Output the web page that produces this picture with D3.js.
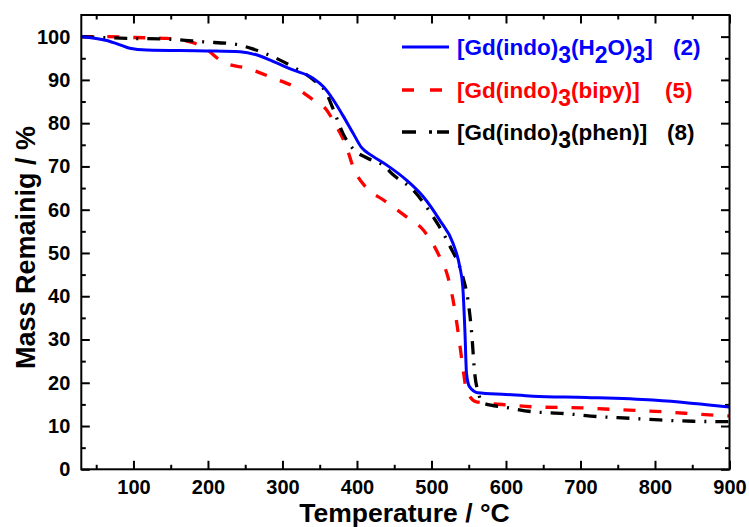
<!DOCTYPE html>
<html>
<head>
<meta charset="utf-8">
<script src="https://cdn.jsdelivr.net/npm/d3@7"></script>
<style>
  body { margin: 0; background: #fff; }
  text { font-family: Arial, "Liberation Sans", sans-serif; font-weight: bold; }
</style>
</head>
<body>
<div id="chart"></div>
<script>
// TGA curves (temperature in °C, mass in %)
const h2oTemp = [30, 64, 82, 95, 118, 198, 243, 265, 288, 314, 341, 355, 367, 381, 395, 406, 420, 440, 466, 489, 511, 529, 538, 542, 545, 547, 551, 562, 600, 636, 708, 797, 842, 869, 900];
const h2oMass = [100, 99.1, 98.1, 97.3, 96.9, 96.7, 96.5, 95.8, 94.2, 92.3, 90.4, 88.4, 85.7, 81.8, 77.6, 74.4, 72.5, 70.3, 66.9, 63, 57.6, 52.2, 46.8, 42.2, 31.4, 22.2, 19.1, 17.7, 17.3, 16.9, 16.6, 16, 15.4, 14.9, 14.4];

const bipyTemp = [30, 64, 100, 145, 180, 198, 216, 225, 252, 288, 319, 341, 359, 370, 386, 395, 413, 435, 466, 489, 511, 522, 529, 536, 542, 547, 560, 600, 641, 700, 748, 820, 860, 900];
const bipyMass = [100, 100, 99.8, 99.6, 98.6, 97.1, 94.6, 93.8, 92.7, 90.4, 88.1, 85.4, 83.1, 80, 74.5, 69.8, 65, 62.3, 58.4, 55.3, 49.1, 44.5, 39.1, 31.4, 23.7, 18.3, 15.6, 14.9, 14.4, 14.2, 13.8, 13.2, 12.7, 12.3];

const phenTemp = [30, 91, 149, 194, 238, 261, 288, 314, 341, 359, 368, 381, 395, 413, 435, 449, 475, 502, 525, 542, 549, 554, 558, 563, 569, 600, 636, 677, 722, 766, 806, 851, 900];
const phenMass = [100, 99.6, 99.4, 98.8, 98.2, 97.1, 95.3, 93, 90.1, 86.9, 83.3, 77.7, 74, 72, 70.3, 68, 64.6, 58.4, 51.5, 44.5, 39.1, 31.4, 22.2, 17.6, 15.3, 14.3, 13.3, 12.9, 12.2, 11.8, 11.4, 11.1, 11];

const xMajor = [100, 200, 300, 400, 500, 600, 700, 800, 900];
const xMinor = [50, 150, 250, 350, 450, 550, 650, 750, 850];
const yMajor = [0, 10, 20, 30, 40, 50, 60, 70, 80, 90, 100];
const yMinor = [5, 15, 25, 35, 45, 55, 65, 75, 85, 95];

const width = 749;
const height = 527;
const margin = {top: 15, right: 19.5, bottom: 57.7, left: 81.3};
const graphWidth = width - margin.left - margin.right;
const graphHeight = height - margin.top - margin.bottom;

const svg = d3.select('#chart')
    .append('svg')
    .attr('width', width)
    .attr('height', height);

const graph = svg.append('g')
    .attr('transform', `translate(${margin.left}, ${margin.top})`);

const xScale = d3.scaleLinear().domain([30, 900]).range([0, graphWidth]);
const yScale = d3.scaleLinear().domain([0, 105]).range([graphHeight, 0]);

// ticks point inward on all four sides
function addAxis(axisFn, scale, values, size, transform, labels) {
    const g = graph.append('g')
        .attr('transform', transform)
        .call(axisFn(scale).tickValues(values).tickSizeInner(-size).tickSizeOuter(0)
            .tickPadding(labels ? 11 : 0)
            .tickFormat(labels ? d3.format('d') : ''));
    g.select('.domain').remove();
    g.selectAll('line').attr('stroke', '#000').attr('stroke-width', 2);
    g.selectAll('text').attr('font-size', 20).attr('fill', '#000');
    return g;
}

addAxis(d3.axisBottom, xScale, xMajor, 8.5, `translate(0, ${graphHeight})`, true);
addAxis(d3.axisBottom, xScale, xMinor, 4.5, `translate(0, ${graphHeight})`, false);
addAxis(d3.axisTop, xScale, xMajor, 8.5, 'translate(0, 0)', false);
addAxis(d3.axisTop, xScale, xMinor, 4.5, 'translate(0, 0)', false);
addAxis(d3.axisLeft, yScale, yMajor, 8.5, 'translate(0, 0)', true);
addAxis(d3.axisLeft, yScale, yMinor, 4.5, 'translate(0, 0)', false);
addAxis(d3.axisRight, yScale, yMajor, 8.5, `translate(${graphWidth}, 0)`, false);
addAxis(d3.axisRight, yScale, yMinor, 4.5, `translate(${graphWidth}, 0)`, false);

graph.append('defs').append('clipPath').attr('id', 'plot-clip')
    .append('rect').attr('width', graphWidth).attr('height', graphHeight);

const line = d3.line()
    .x(d => xScale(d[0]))
    .y(d => yScale(d[1]))
    .curve(d3.curveMonotoneX);

const series = [
    {t: bipyTemp, m: bipyMass, color: '#ff0000', dash: '12,14', w: 3.3},
    {t: phenTemp, m: phenMass, color: '#000000', dash: '13,9,2,9', w: 3.3},
    {t: h2oTemp, m: h2oMass, color: '#0000ff', dash: null, w: 3}
];

series.forEach(s => {
    graph.append('path')
        .datum(s.t.map((t, i) => [t, s.m[i]]))
        .attr('clip-path', 'url(#plot-clip)')
        .attr('fill', 'none')
        .attr('stroke', s.color)
        .attr('stroke-width', s.w)
        .attr('stroke-dasharray', s.dash)
        .attr('d', line);
});

// frame
graph.append('rect')
    .attr('width', graphWidth)
    .attr('height', graphHeight)
    .attr('fill', 'none')
    .attr('stroke', '#000')
    .attr('stroke-width', 2);

// axis titles
svg.append('text')
    .text('Temperature / °C')
    .attr('x', 404.5)
    .attr('y', 522)
    .attr('text-anchor', 'middle')
    .attr('font-size', 26.5);

svg.append('text')
    .text('Mass Remainig / %')
    .attr('transform', 'translate(35, 247.5) rotate(-90)')
    .attr('text-anchor', 'middle')
    .attr('font-size', 27);

// legend
const legendItems = [
    {parts: [['[Gd(indo)', 0], ['3', 1], ['(H', 0], ['2', 1], ['O)', 0], ['3', 1], [']', 0]], num: '(2)', numX: 673, color: '#0000ff', dash: null, w: 3},
    {parts: [['[Gd(indo)', 0], ['3', 1], ['(bipy)]', 0]], num: '(5)', numX: 665, color: '#ff0000', dash: '12,16', w: 3.3},
    {parts: [['[Gd(indo)', 0], ['3', 1], ['(phen)]', 0]], num: '(8)', numX: 667, color: '#000000', dash: '14,13,3,5,14', w: 3.3}
];
const legendRowY = [47, 90, 132];

legendItems.forEach((item, i) => {
    const y = legendRowY[i];
    svg.append('line')
        .attr('x1', 402).attr('x2', 449)
        .attr('y1', y).attr('y2', y)
        .attr('stroke', item.color)
        .attr('stroke-width', item.w)
        .attr('stroke-dasharray', item.dash);

    const txt = svg.append('text')
        .attr('x', 457)
        .attr('y', y + 8)
        .attr('font-size', 22.5)
        .attr('fill', item.color);
    let shifted = false;
    item.parts.forEach(p => {
        const isSub = p[1] === 1;
        let dy = 0;
        if (isSub && !shifted) { dy = 8; shifted = true; }
        if (!isSub && shifted) { dy = -8; shifted = false; }
        txt.append('tspan')
            .attr('dy', dy)
            .attr('font-size', isSub ? 23 : 22.5)
            .text(p[0]);
    });

    svg.append('text')
        .attr('x', item.numX)
        .attr('y', y + 8)
        .attr('font-size', 22.5)
        .attr('fill', item.color)
        .text(item.num);
});
</script>
</body>
</html>
